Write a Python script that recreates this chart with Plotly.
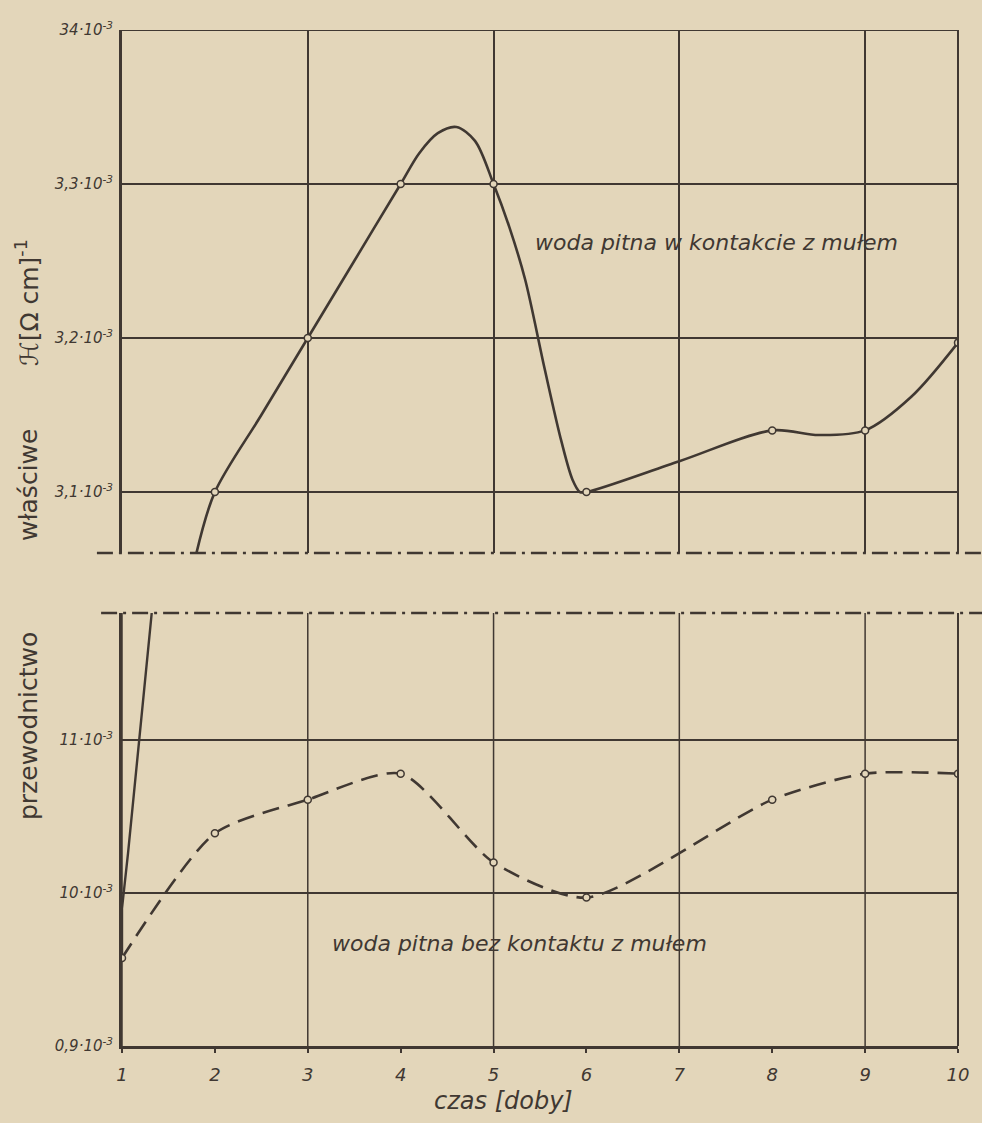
import plotly.graph_objects as go
from plotly.subplots import make_subplots

# ---- data (values in units of 10^-3 (Ohm cm)^-1) ----
days = [1, 2, 3, 4, 5, 6, 7, 8, 9, 10]
day_labels = ["1", "2", "3", "4", "5", "6", "7", "8", "9", "10"]

# woda pitna w kontakcie z mułem (measured points)
contact_x = [2, 3, 4, 5, 6, 8, 9, 10]
contact_y = [3.10, 3.20, 3.30, 3.30, 3.10, 3.14, 3.14, 3.197]
# hand-drawn curve through the points
contact_curve_x = [1.80, 2.0, 2.5, 3.0, 3.5, 4.0, 4.2, 4.4, 4.6, 4.8, 5.0, 5.17, 5.34, 5.55, 5.73,
                   5.85, 5.93, 6.0, 7.0, 8.0, 8.5, 9.0, 9.5, 10.0]
contact_curve_y = [3.060, 3.10, 3.15, 3.20, 3.25, 3.30, 3.320, 3.333, 3.337, 3.328, 3.30, 3.272, 3.238,
                   3.180, 3.133, 3.108, 3.100, 3.10, 3.12, 3.14, 3.137, 3.14, 3.162, 3.197]
# the same curve in the lower panel (start at day 1)
contact_low_x = [1.0, 1.0, 1.065, 1.32]
contact_low_y = [0.9575, 0.99, 1.026, 1.183]

# woda pitna bez kontaktu z mułem
nocontact_x = [1, 2, 3, 4, 5, 6, 8, 9, 10]
nocontact_y = [0.9575, 1.039, 1.061, 1.078, 1.020, 0.997, 1.061, 1.078, 1.078]

upper_ticks = [3.1, 3.2, 3.3, 3.4]
upper_ticktext = ["3,1·10<sup>-3</sup>", "3,2·10<sup>-3</sup>", "3,3·10<sup>-3</sup>", "34·10<sup>-3</sup>"]
lower_ticks = [0.9, 1.0, 1.1]
lower_ticktext = ["0,9·10<sup>-3</sup>", "10·10<sup>-3</sup>", "11·10<sup>-3</sup>"]
grid_x = [1, 3, 5, 7, 9, 10]

UPPER_RANGE = [3.0604, 3.4]
LOWER_RANGE = [0.9, 1.183]

BG = "#e3d6ba"
INK = "#403832"
FONT = "DejaVu Sans, Liberation Sans, sans-serif"

W, H = 982, 1123
ML, MR, MT, MB = 122, 24, 30, 77
plot_h = H - MT - MB
plot_w = W - ML - MR
upper_bottom = (H - MB - 553) / plot_h
lower_top = (H - MB - 613) / plot_h


def px_x(p):
    return (p - ML) / plot_w


def px_y(p):
    return (H - MB - p) / plot_h


fig = make_subplots(rows=2, cols=1, shared_xaxes=False, vertical_spacing=0.0)

# upper panel
fig.add_trace(go.Scatter(x=contact_curve_x, y=contact_curve_y, mode="lines",
                         line=dict(color=INK, width=2.6, shape="spline", smoothing=0.9),
                         hoverinfo="skip", showlegend=False), row=1, col=1)
fig.add_trace(go.Scatter(x=contact_x, y=contact_y, mode="markers",
                         marker=dict(symbol="circle", size=7, color=BG, line=dict(color=INK, width=1.5)),
                         showlegend=False), row=1, col=1)

# lower panel
fig.add_trace(go.Scatter(x=contact_low_x, y=contact_low_y, mode="lines",
                         line=dict(color=INK, width=2.4),
                         hoverinfo="skip", showlegend=False), row=2, col=1)
fig.add_trace(go.Scatter(x=nocontact_x, y=nocontact_y, mode="lines",
                         line=dict(color=INK, width=2.6, dash="17px,9px", shape="spline", smoothing=0.7),
                         hoverinfo="skip", showlegend=False), row=2, col=1)
fig.add_trace(go.Scatter(x=nocontact_x, y=nocontact_y, mode="markers",
                         marker=dict(symbol="circle", size=7, color=BG, line=dict(color=INK, width=1.5)),
                         showlegend=False), row=2, col=1)

tickfont = dict(family=FONT, size=15, color=INK, style="italic")

fig.update_layout(
    width=W, height=H,
    margin=dict(l=ML, r=MR, t=MT, b=MB),
    paper_bgcolor=BG, plot_bgcolor=BG,
    showlegend=False,
    xaxis=dict(domain=[0, 1], range=[1, 10], tickvals=grid_x, showticklabels=False, ticks="",
               showgrid=True, gridcolor=INK, gridwidth=1.5, zeroline=False, showline=False),
    yaxis=dict(domain=[upper_bottom, 1], range=UPPER_RANGE, tickvals=upper_ticks, ticktext=upper_ticktext,
               tickfont=tickfont, ticks="", ticklabelstandoff=3, showgrid=True, gridcolor=INK, gridwidth=1.5,
               zeroline=False, showline=True, linecolor=INK, linewidth=3),
    xaxis2=dict(domain=[0, 1], range=[1, 10], tickvals=days, ticktext=day_labels,
                tickfont=dict(family=FONT, size=18, color=INK, style="italic"),
                ticks="outside", ticklen=4, tickcolor=INK, tickwidth=1.5, ticklabelstandoff=6,
                showgrid=False, zeroline=False, showline=True, linecolor=INK, linewidth=3),
    yaxis2=dict(domain=[0, lower_top], range=LOWER_RANGE, tickvals=lower_ticks, ticktext=lower_ticktext,
                tickfont=tickfont, ticks="", ticklabelstandoff=3, showgrid=True, gridcolor=INK, gridwidth=1.5,
                zeroline=False, showline=True, linecolor=INK, linewidth=3),
)

shapes = []
# vertical grid lines in lower panel
for gx in grid_x:
    shapes.append(dict(type="line", xref="x2", yref="y2 domain", x0=gx, x1=gx, y0=0, y1=1,
                       line=dict(color=INK, width=1.5), layer="below"))
# top border of upper panel
shapes.append(dict(type="line", xref="x domain", yref="y", x0=0, x1=1, y0=3.4, y1=3.4,
                   line=dict(color=INK, width=2)))
# right border line
shapes.append(dict(type="line", xref="x domain", yref="y domain", x0=1, x1=1, y0=0, y1=1,
                   line=dict(color=INK, width=2)))
shapes.append(dict(type="line", xref="x2 domain", yref="y2 domain", x0=1, x1=1, y0=0, y1=1,
                   line=dict(color=INK, width=2)))
# axis-break dash-dot lines
shapes.append(dict(type="line", xref="paper", yref="y domain", x0=-0.03, x1=1.03, y0=0, y1=0,
                   line=dict(color=INK, width=2.5, dash="16px,6px,3px,6px")))
shapes.append(dict(type="line", xref="paper", yref="y2 domain", x0=-0.025, x1=1.03, y0=1, y1=1,
                   line=dict(color=INK, width=2.5, dash="16px,6px,3px,6px")))
fig.update_layout(shapes=shapes)

title_font = dict(family=FONT, size=25, color=INK)
annotations = [
    dict(text="woda pitna w kontakcie z mułem", xref="x", yref="y", x=5.42, y=3.262,
         xanchor="left", yanchor="middle", showarrow=False,
         font=dict(family=FONT, size=22, color=INK, style="italic")),
    dict(text="woda pitna bez kontaktu z mułem", xref="x2", yref="y2", x=3.24, y=0.967,
         xanchor="left", yanchor="middle", showarrow=False,
         font=dict(family=FONT, size=22, color=INK, style="italic")),
    # y-axis title, lettered word by word
    dict(text="przewodnictwo", xref="paper", yref="paper", x=px_x(28), y=px_y(726),
         xanchor="center", yanchor="middle", textangle=-90, showarrow=False, font=title_font),
    dict(text="właściwe", xref="paper", yref="paper", x=px_x(28), y=px_y(485),
         xanchor="center", yanchor="middle", textangle=-90, showarrow=False, font=title_font),
    dict(text="ℋ[Ω cm]<sup>-1</sup>", xref="paper", yref="paper", x=px_x(28), y=px_y(303),
         xanchor="center", yanchor="middle", textangle=-90, showarrow=False, font=title_font),
    dict(text="czas [doby]", xref="paper", yref="paper", x=px_x(503), y=px_y(1101),
         xanchor="center", yanchor="middle",
         showarrow=False, font=dict(family=FONT, size=24, color=INK, style="italic")),
]
fig.update_layout(annotations=annotations)

fig.write_html("out.html")
